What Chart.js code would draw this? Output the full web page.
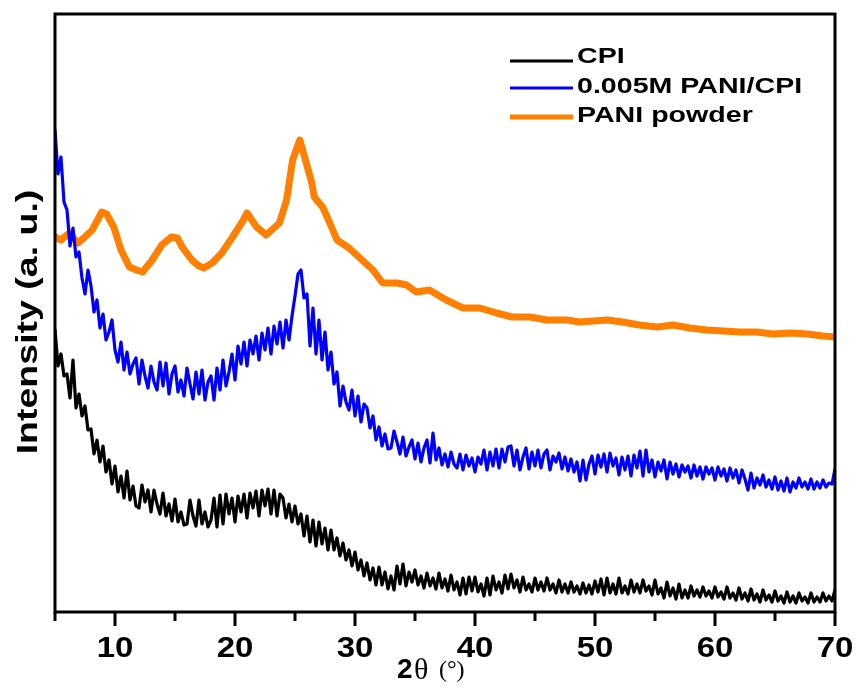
<!DOCTYPE html>
<html>
<head>
<meta charset="utf-8">
<script src="https://cdn.jsdelivr.net/npm/chart.js@4.4.1/dist/chart.umd.min.js"></script>
<style>
  html, body { margin: 0; padding: 0; background: #fff; }
  canvas { display: block; }
</style>
</head>
<body>
<canvas id="xrd" width="857" height="689"></canvas>
<script>
// scan grid for the two film patterns (2theta, degrees)
const scanStart = 5;
const scanStep = 0.25;

// CPI film (a. u.)
const cpiIntensity = [
  282, 246, 258, 236, // 5
  238, 214, 252, 204, // 6
  218, 196, 206, 182, // 7
  183, 158, 172, 150, // 8
  166, 140, 152, 128, // 9
  146, 120, 136, 114, // 10
  141, 112, 126, 106, // 11
  104, 127, 110, 122, // 12
  100, 122, 108, 98,  // 13
  119, 96, 108, 91,   // 14
  113, 90, 100, 87,   // 15
  88, 112, 96, 86,    // 16
  112, 88, 100, 85,   // 17
  92, 114, 85, 117,   // 18
  88, 118, 98, 114,   // 19
  90, 116, 100, 118,  // 20
  94, 119, 104, 121,  // 21
  96, 122, 106, 123,  // 22
  98, 122, 96, 118,   // 23
  114, 94, 108, 90,   // 24
  106, 88, 98, 76,    // 25
  96, 70, 92, 66,     // 26
  90, 68, 84, 62,     // 27
  82, 62, 74, 56,     // 28
  69, 52, 62, 46,     // 29
  60, 42, 52, 36,     // 30
  49, 32, 44, 27,     // 31
  45, 27, 40, 23,     // 32
  36, 22, 46, 28,     // 33
  48, 26, 40, 30,     // 34
  42, 27, 36, 24,     // 35
  39, 26, 34, 23,     // 36
  39, 24, 33, 21,     // 37
  37, 22, 30, 17,     // 38
  34, 18, 35, 21,     // 39
  35, 20, 28, 16,     // 40
  34, 17, 36, 22,     // 41
  30, 19, 37, 23,     // 42
  38, 24, 32, 20,     // 43
  35, 22, 28, 20,     // 44
  34, 22, 30, 21,     // 45
  34, 22, 28, 19,     // 46
  32, 20, 28, 19,     // 47
  30, 20, 26, 18,     // 48
  29, 19, 27, 18,     // 49
  31, 20, 33, 17,     // 50
  34, 19, 28, 18,     // 51
  34, 19, 26, 18,     // 52
  32, 20, 28, 19,     // 53
  32, 21, 26, 17,     // 54
  32, 18, 24, 14,     // 55
  30, 16, 24, 13,     // 56
  28, 14, 22, 14,     // 57
  26, 16, 22, 15,     // 58
  25, 16, 21, 14,     // 59
  25, 15, 20, 13,     // 60
  25, 14, 19, 12,     // 61
  24, 13, 19, 11,     // 62
  23, 12, 18, 10,     // 63
  22, 12, 17, 10,     // 64
  21, 11, 16, 9,      // 65
  20, 10, 16, 9,      // 66
  19, 11, 15, 9,      // 67
  19, 10, 15, 10,     // 68
  19, 11, 16, 11,     // 69
  22                  // 70
];

// 0.005M PANI/CPI film
const compositeIntensity = [
  482, 438, 455, 410, // 5
  402, 366, 384, 355, // 6
  360, 334, 318, 342, // 7
  326, 300, 312, 284, // 8
  298, 272, 280, 292, // 9
  262, 250, 270, 242, // 10
  260, 238, 248, 254, // 11
  228, 252, 236, 224, // 12
  246, 230, 222, 250, // 13
  226, 249, 218, 238, // 14
  246, 220, 232, 216, // 15
  244, 228, 213, 240, // 16
  218, 242, 212, 230, // 17
  236, 212, 244, 222, // 18
  252, 226, 240, 258, // 19
  232, 266, 248, 270, // 20
  246, 272, 258, 276, // 21
  252, 279, 262, 284, // 22
  258, 286, 268, 290, // 23
  264, 292, 272, 296, // 24
  316, 338, 342, 314, // 25
  318, 266, 304, 258, // 26
  292, 252, 280, 242, // 27
  260, 228, 240, 206, // 28
  226, 210, 202, 222, // 29
  196, 216, 190, 208, // 30
  204, 184, 196, 172, // 31
  185, 166, 178, 163, // 32
  164, 181, 170, 158, // 33
  175, 156, 165, 172, // 34
  153, 169, 150, 164, // 35
  172, 149, 179, 152, // 36
  164, 147, 158, 145, // 37
  160, 148, 144, 158, // 38
  142, 157, 146, 154, // 39
  140, 155, 148, 162, // 40
  142, 160, 146, 163, // 41
  144, 163, 150, 165, // 42
  166, 146, 162, 142, // 43
  155, 164, 143, 160, // 44
  146, 162, 144, 158, // 45
  162, 142, 156, 150, // 46
  159, 143, 155, 141, // 47
  153, 140, 150, 131, // 48
  152, 132, 148, 156, // 49
  138, 157, 145, 158, // 50
  140, 159, 146, 154, // 51
  137, 155, 142, 156, // 52
  136, 157, 144, 161, // 53
  136, 162, 140, 152, // 54
  135, 150, 141, 152, // 55
  133, 150, 138, 148, // 56
  135, 147, 140, 146, // 57
  134, 147, 136, 145, // 58
  133, 145, 138, 144, // 59
  132, 145, 136, 143, // 60
  131, 144, 134, 142, // 61
  129, 142, 133, 122, // 62
  139, 124, 134, 127, // 63
  137, 125, 132, 123, // 64
  135, 122, 131, 121, // 65
  134, 120, 130, 124, // 66
  134, 125, 130, 123, // 67
  133, 123, 130, 124, // 68
  132, 125, 129, 128, // 69
  143                 // 70
];

// PANI powder (smooth curve)
const paniAngles = [
  5.0, 5.5, 6.2, 6.9, 7.4, 8.1, 8.9, 9.3, 9.9, 10.5,
  11.2, 11.8, 12.3, 13.1, 13.9, 14.7, 15.2, 15.6, 16.4, 17.0,
  17.4, 18.1, 18.9, 19.8, 20.6, 21.0, 21.8, 22.6, 23.7, 24.3,
  24.8, 25.4, 25.8, 26.4, 26.6, 27.3, 27.9, 28.5, 29.5, 30.4,
  31.5, 32.3, 33.5, 34.3, 35.1, 36.2, 37.6, 39.0, 40.4, 41.8,
  43.1, 44.6, 46.0, 47.7, 48.7, 51.0, 52.3, 53.7, 55.2, 56.5,
  57.9, 59.3, 60.7, 62.1, 63.5, 64.8, 66.3, 67.7, 69.0, 70.0
];
const paniIntensity = [
  375, 372, 379, 369, 374, 382, 400, 398, 385, 362,
  345, 342, 340, 352, 367, 375, 374, 365, 352, 346,
  344, 349, 359, 375, 390, 399, 385, 377, 389, 412,
  452, 472, 455, 429, 415, 405, 389, 372, 364, 354,
  342, 329, 329, 327, 320, 322, 312, 304, 304, 299,
  295, 295, 292, 292, 290, 292, 290, 287, 285, 287,
  284, 282, 281, 280, 280, 278, 279, 278, 276, 275
];

const seriesNames = ["CPI", "0.005M PANI/CPI", "PANI powder"];
const seriesColors = ["#000000", "#0000ff", "#ff8000"];

const xMajorTicks = [10, 20, 30, 40, 50, 60, 70];
const xMinorTicks = [5, 15, 25, 35, 45, 55, 65];

function scanPoints(values) {
  return values.map((v, i) => ({ x: scanStart + i * scanStep, y: v }));
}

function stretchText(ctx, text, x, y, sx) {
  ctx.save();
  ctx.translate(x, y);
  ctx.scale(sx, 1);
  ctx.fillText(text, 0, 0);
  ctx.restore();
}

const SANS = '"Liberation Sans", Arial, sans-serif';
const SERIF = '"Liberation Serif", "Times New Roman", serif';

// frame, ticks, labels and the legend are drawn by hand to match the figure
const framePlugin = {
  id: "frame",
  afterDatasetsDraw(chart) {
    const ctx = chart.ctx;
    const a = chart.chartArea;
    const x = chart.scales.x;
    ctx.save();
    ctx.strokeStyle = "#000";
    ctx.fillStyle = "#000";
    ctx.lineWidth = 3;
    ctx.strokeRect(a.left, a.top, a.right - a.left, a.bottom - a.top);

    ctx.beginPath();
    xMajorTicks.forEach(v => {
      const px = x.getPixelForValue(v);
      ctx.moveTo(px, a.bottom);
      ctx.lineTo(px, a.bottom + 14);
    });
    xMinorTicks.forEach(v => {
      const px = x.getPixelForValue(v);
      ctx.moveTo(px, a.bottom);
      ctx.lineTo(px, a.bottom + 9);
    });
    ctx.stroke();

    // tick labels
    ctx.font = "bold 30px " + SANS;
    ctx.textAlign = "center";
    ctx.textBaseline = "alphabetic";
    xMajorTicks.forEach(v => {
      stretchText(ctx, String(v), x.getPixelForValue(v), a.bottom + 45, 1.1);
    });

    // x title: 2θ (°)
    ctx.textAlign = "left";
    ctx.font = "bold 28px " + SANS;
    ctx.fillText("2", 397, 678);
    ctx.font = "30px " + SERIF;
    ctx.fillText("θ", 414, 679);
    ctx.font = "24px " + SERIF;
    ctx.fillText("(°)", 439, 677);

    // y title
    ctx.save();
    ctx.translate(37, 322);
    ctx.rotate(-Math.PI / 2);
    ctx.font = "bold 30px " + SANS;
    ctx.textAlign = "center";
    stretchText(ctx, "Intensity (a. u.)", 0, 0, 1.25);
    ctx.restore();

    // legend
    const rowLine = [61, 88, 117];
    const rowText = [63, 93, 122];
    ctx.font = "bold 22px " + SANS;
    ctx.textAlign = "left";
    chart.data.datasets.forEach((ds, i) => {
      ctx.beginPath();
      ctx.strokeStyle = ds.borderColor;
      ctx.lineWidth = Math.min(ds.borderWidth, 5);
      ctx.moveTo(510, rowLine[i]);
      ctx.lineTo(573, rowLine[i]);
      ctx.stroke();
      ctx.fillStyle = "#000";
      stretchText(ctx, ds.label, 577, rowText[i], 1.3);
    });
    ctx.restore();
  }
};

new Chart(document.getElementById("xrd"), {
  type: "line",
  data: {
    datasets: [
      {
        label: seriesNames[0],
        data: scanPoints(cpiIntensity),
        borderColor: seriesColors[0],
        borderWidth: 3.2
      },
      {
        label: seriesNames[1],
        data: scanPoints(compositeIntensity),
        borderColor: seriesColors[1],
        borderWidth: 3.2
      },
      {
        label: seriesNames[2],
        data: paniAngles.map((t, i) => ({ x: t, y: paniIntensity[i] })),
        borderColor: seriesColors[2],
        borderWidth: 7
      }
    ]
  },
  options: {
    responsive: false,
    animation: false,
    layout: { padding: { left: 55, top: 14, right: 22, bottom: 77 } },
    elements: {
      point: { radius: 0 },
      line: { tension: 0, borderJoinStyle: "round", borderCapStyle: "round" }
    },
    scales: {
      x: { type: "linear", min: 5, max: 70, display: false },
      y: { min: 0, max: 598, display: false }
    },
    plugins: {
      legend: { display: false },
      tooltip: { enabled: false }
    }
  },
  plugins: [framePlugin]
});
</script>
</body>
</html>
